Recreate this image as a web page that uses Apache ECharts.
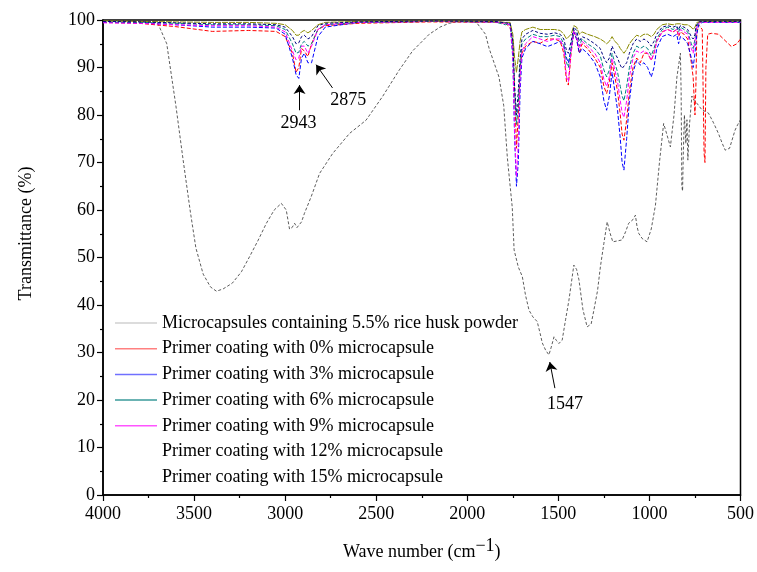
<!DOCTYPE html>
<html>
<head>
<meta charset="utf-8">
<script src="https://cdn.jsdelivr.net/npm/echarts@6/dist/echarts.min.js"></script>
<style>
  html, body { margin: 0; padding: 0; background: #fff; }
  #chart { width: 757px; height: 572px; }
</style>
</head>
<body>
<div id="chart"></div>
<script>
// 微胶囊 FTIR 曲线
const waveMicro = [4000, 3900, 3800, 3750, 3700, 3650, 3600, 3560, 3520, 3490, 3450, 3410, 3377, 3340, 3290, 3240,
  3195, 3150, 3103, 3060, 3021, 2994, 2976, 2962, 2948, 2935, 2926, 2910, 2894, 2857, 2811, 2739,
  2647, 2556, 2465, 2373, 2300, 2209, 2150, 2100, 2050, 2000, 1950, 1900, 1880, 1826, 1800, 1780,
  1753, 1743, 1720, 1698, 1680, 1661, 1640, 1616, 1600, 1588, 1570, 1552, 1540, 1524, 1510, 1497,
  1479, 1460, 1442, 1415, 1400, 1387, 1365, 1342, 1320, 1305, 1285, 1269, 1250, 1232, 1215, 1201,
  1175, 1150, 1130, 1114, 1090, 1077, 1068, 1059, 1040, 1013, 990, 967, 945, 922, 905, 885,
  865, 849, 830, 826, 822, 818, 814, 808, 800, 794, 789, 780, 767, 754, 740, 712,
  676, 650, 621, 600, 584, 560, 530, 515, 500]
const microcapsules = [99.8, 99.8, 99.7, 99.6, 99.4, 95, 82, 70.5, 59.5, 52, 46.5, 43.8, 42.9, 43.4, 44.6, 47,
  50.2, 53.5, 57.2, 60, 61.4, 60, 56, 56.3, 57.2, 56.3, 56.5, 57.5, 59.3, 62.8, 67.7, 71.9,
  76.1, 78.9, 83.9, 89.5, 93.5, 97, 98.5, 99.3, 99.7, 99.8, 99.5, 97, 94, 88, 82, 71,
  60.5, 51.6, 48, 46, 42, 38.9, 37.5, 36.5, 34, 32, 30.5, 29.5, 31, 33.3, 32.5, 31.9,
  32.6, 37, 41, 48.4, 47.5, 45.3, 39, 35.4, 36, 38.9, 43, 48.1, 53, 57.5, 55, 53.3,
  53.5, 53.7, 55.5, 57.2, 58, 58.9, 56.5, 55.1, 54, 53.3, 56, 61, 70, 78.2, 76, 73.3,
  80, 88, 93, 85, 65, 64, 72, 80, 74, 79, 70.5, 78, 84, 83, 82.5, 81.1,
  80.4, 78.5, 76.1, 74, 72.6, 73, 76.8, 78, 79]

// 底漆涂层曲线（共用波数）
const waveCoat = [4000, 3800, 3600, 3400, 3200, 3050, 3000, 2960,
  2940, 2925, 2910, 2895, 2875, 2855, 2820, 2780,
  2600, 2200, 1850, 1790, 1765, 1750, 1740, 1730,
  1720, 1710, 1700, 1680, 1640, 1600, 1560, 1520,
  1490, 1470, 1455, 1445, 1430, 1415, 1400, 1385,
  1370, 1340, 1300, 1270, 1250, 1235, 1220, 1205,
  1190, 1175, 1160, 1150, 1140, 1125, 1110, 1090,
  1070, 1050, 1030, 1010, 990, 975, 960, 930,
  900, 870, 850, 840, 830, 810, 790, 770,
  760, 750, 745, 740, 730, 710, 700, 695,
  690, 680, 660, 620, 580, 550, 520, 500]
const coat0 = [99.5, 99.3, 98.6, 97.6, 97.8, 97.6, 96.5, 93,
  89, 90, 94, 93.5, 92.3, 95, 98, 98.8,
  99.3, 99.6, 99.5, 99.3, 98.5, 95, 85, 73,
  80, 90, 93, 94.5, 95.5, 95.1, 96, 96,
  95.5, 93, 87, 86.3, 93, 97.5, 96, 93,
  95, 94, 92, 90, 86, 84.5, 87, 91,
  88, 85, 80, 76, 74.7, 79, 85, 90,
  92, 91, 93, 93, 91.5, 93, 95.5, 97.5,
  98, 97.5, 98, 96.5, 97.5, 97, 96, 91,
  88, 80, 86, 97, 99, 98, 72, 70,
  90, 97, 97.2, 97, 95.5, 94.4, 95, 96]
const coat3 = [99.5, 99.4, 99, 98.5, 98.5, 98.3, 97, 92,
  88.5, 87.7, 92, 93, 91, 91, 96.5, 98.5,
  99.5, 99.7, 99.6, 99.4, 99, 92, 75, 65,
  70, 85, 92, 94, 95.5, 95, 94.4, 95,
  95.5, 94.5, 92, 91, 94, 97.5, 96, 93,
  94, 93, 91, 88, 83, 81, 84, 89,
  85, 81, 75, 70, 68.4, 75, 83, 89,
  91.5, 90.5, 91, 90, 88, 90, 94, 96.5,
  97, 96.5, 97, 95, 96.5, 96, 95, 92,
  90, 93, 95, 97, 99, 99.5, 99.5, 99.5,
  99.5, 99.5, 99.5, 99.5, 99.5, 99.5, 99.5, 99.5]
const coat6 = [99.6, 99.5, 99.3, 99, 99, 98.8, 98, 95,
  93, 93.2, 95, 95.5, 94.5, 95, 98, 99,
  99.5, 99.7, 99.6, 99, 99.3, 95, 85, 78,
  82, 90, 95, 96, 97, 96.5, 96.5, 96.8,
  96.5, 95, 91, 90, 94, 98, 97, 94.5,
  96, 95, 94, 92.5, 89.5, 88, 89.5, 93,
  91, 89, 86, 84, 83, 86, 90, 93,
  94.5, 94, 94.5, 94, 92.5, 94, 96, 98,
  98.5, 98, 98.5, 97.5, 98.5, 98, 97.5, 95,
  94, 96, 97.5, 98.5, 99.5, 99.6, 99.6, 99.6,
  99.6, 99.6, 99.6, 99.6, 99.6, 99.6, 99.6, 99.6]
const coat9 = [99.4, 99.3, 99, 98.8, 98.8, 98.5, 97.5, 93.5,
  91.6, 92, 94.5, 94.5, 93, 94.5, 98, 99,
  99.5, 99.7, 99.6, 99.3, 99, 93, 76, 67,
  74, 88, 93.5, 95, 96.5, 96, 95.5, 96,
  96, 94, 88, 87, 93.5, 97.8, 96.5, 94,
  95.5, 94.5, 93, 91, 87.5, 86, 88, 92,
  89.5, 87, 83, 80.5, 79.5, 83, 88, 92,
  93.5, 93, 93.5, 93, 91.5, 93, 95.5, 97.5,
  98, 97.5, 98, 97, 98, 97.5, 97, 94,
  93, 95.5, 97, 98.5, 99.4, 99.5, 99.5, 99.5,
  99.5, 99.5, 99.5, 99.5, 99.5, 99.5, 99.5, 99.5]
const coat12 = [99.8, 99.7, 99.6, 99.5, 99.5, 99.3, 99, 97.8,
  96.8, 96.8, 97.5, 97.8, 97.3, 97.8, 99, 99.5,
  99.7, 99.8, 99.7, 99.5, 99.5, 97, 92, 89,
  92, 95.5, 97.5, 98, 98.5, 98, 98, 98,
  97.8, 97, 96, 95.8, 97, 98.8, 98.5, 97,
  97.5, 97, 96.5, 96, 95.5, 95, 95.5, 96.5,
  95.5, 95, 94, 93.5, 93, 93.8, 95, 96,
  96.8, 96.5, 97, 97, 96.5, 97, 98, 99,
  99.2, 99, 99.2, 98.8, 99.2, 99, 99, 98.5,
  98, 98.5, 99, 99.5, 99.7, 99.7, 99.7, 99.7,
  99.7, 99.7, 99.7, 99.7, 99.7, 99.7, 99.7, 99.7]
const coat15 = [99.7, 99.6, 99.4, 99.2, 99.2, 99, 98.5, 96.5,
  95, 95.2, 96.5, 96.8, 96, 96.5, 98.8, 99.3,
  99.6, 99.8, 99.7, 99.4, 99.3, 95.5, 86, 80,
  85, 92, 96, 97, 97.8, 97.2, 97, 97.3,
  97, 96, 93.5, 93, 95.5, 98.5, 97.8, 95.5,
  96.5, 96, 95, 94, 92, 91, 92, 94.5,
  93, 92, 90.5, 89.8, 89.5, 91, 93, 95,
  96, 95.5, 96, 95.5, 94.5, 95.5, 97, 98.5,
  98.8, 98.5, 98.8, 98, 98.8, 98.5, 98, 96.5,
  96, 97, 98.5, 99, 99.6, 99.7, 99.7, 99.7,
  99.7, 99.7, 99.7, 99.7, 99.7, 99.7, 99.7, 99.7]

const seriesNames = [
  'Microcapsules containing 5.5% rice husk powder',
  'Primer coating with 0% microcapsule',
  'Primer coating with 3% microcapsule',
  'Primer coating with 6% microcapsule',
  'Primer coating with 9% microcapsule',
  'Primer coating with 12% microcapsule',
  'Primer coating with 15% microcapsule'
]
const xTicks = [500, 4000, 500] // min, max, interval
const yTicks = [0, 100, 10]

// 峰位标注：[文字, 文字位置, 箭头起点, 箭头终点]
const peakLabels = [
  ['2943', [2926, 78.3], [2921, 81.0], [2921, 86.3]],
  ['2875', [2653, 83.2], [2740, 85.7], [2830, 90.6]],
  ['1547', [1464, 19.0], [1519, 22.5], [1547, 28.0]]
]

const FONT = "'Liberation Serif', 'Times New Roman', serif"

const chart = echarts.init(document.getElementById('chart'))

function zip(w, v) {
  return w.map((x, i) => [x, v[i]])
}

const coatSeries = [
  { data: coat0, color: '#ff0000', legend: '#ff8080', dash: [4, 2] },
  { data: coat3, color: '#0000ff', legend: '#7070ff', dash: [4, 2] },
  { data: coat6, color: '#008080', legend: '#3a9a9a', dash: [4, 2] },
  { data: coat9, color: '#ff00ff', legend: '#ff55ff', dash: [4, 2] },
  { data: coat12, color: '#8a8a00', legend: null, dash: [6, 1] },
  { data: coat15, color: '#000080', legend: null, dash: [3, 2] }
]

const series = [{
  name: seriesNames[0],
  type: 'line',
  symbol: 'none',
  data: zip(waveMicro, microcapsules),
  lineStyle: { color: '#333', width: 0.8, type: [3, 2] },
  itemStyle: { color: '#333' },
  z: 1,
  markLine: {
    silent: true,
    symbol: ['none', 'arrow'],
    symbolSize: 9,
    label: { show: false },
    lineStyle: { color: '#000', width: 1, type: 'solid' },
    data: peakLabels.map(p => [{ coord: p[2] }, { coord: p[3] }])
  },
  markPoint: {
    silent: true,
    symbol: 'circle',
    symbolSize: 0,
    label: { show: true, position: 'inside', color: '#000', fontFamily: FONT, fontSize: 18 },
    data: peakLabels.map(p => ({ coord: p[1], value: p[0] }))
  }
}]

coatSeries.forEach((s, i) => {
  series.push({
    name: seriesNames[i + 1],
    type: 'line',
    symbol: 'none',
    data: zip(waveCoat, s.data),
    lineStyle: { color: s.color, width: 1, type: s.dash },
    itemStyle: { color: s.color },
    z: 2 + i
  })
})

// 图例：细线样本，12%/15% 不显示样本
const legendData = seriesNames.map((n, i) => {
  if (i === 0) return { name: n, itemStyle: { color: '#d0d0d0' } }
  const c = coatSeries[i - 1].legend
  if (!c) return { name: n, itemStyle: { color: '#fff', opacity: 0 } }
  return { name: n, itemStyle: { color: c } }
})

chart.setOption({
  animation: false,
  backgroundColor: '#fff',
  grid: {
    left: 103, right: 15, top: 20, bottom: 77,
    show: true, borderColor: '#000', borderWidth: 1.5, backgroundColor: 'transparent'
  },
  legend: {
    orient: 'vertical',
    left: 110,
    top: 309,
    icon: 'rect',
    itemWidth: 42,
    itemHeight: 1.5,
    itemGap: 7.7,
    itemTextGap: 6,
    selectedMode: false,
    textStyle: { fontFamily: FONT, fontSize: 18, color: '#000', lineHeight: 18 },
    data: legendData
  },
  xAxis: {
    type: 'value',
    inverse: true,
    min: xTicks[0],
    max: xTicks[1],
    interval: xTicks[2],
    name: 'Wave number (cm{sup|\u22121})',
    nameLocation: 'middle',
    nameGap: 42,
    nameTextStyle: {
      fontFamily: FONT, fontSize: 18, color: '#000',
      rich: { sup: { fontFamily: FONT, fontSize: 18, color: '#000', verticalAlign: 'bottom', padding: [0, 0, 12, 0] } }
    },
    axisLine: { lineStyle: { color: '#000', width: 1.5 } },
    axisTick: { length: 6, lineStyle: { color: '#000', width: 1.2 } },
    minorTick: { show: true, splitNumber: 2, length: 3, lineStyle: { color: '#000', width: 1.2 } },
    axisLabel: { fontFamily: FONT, fontSize: 18, color: '#000', margin: 10, formatter: v => String(v) },
    splitLine: { show: false }
  },
  yAxis: {
    type: 'value',
    min: yTicks[0],
    max: yTicks[1],
    interval: yTicks[2],
    name: 'Transmittance (%)',
    nameLocation: 'middle',
    nameGap: 68,
    nameTextStyle: { fontFamily: FONT, fontSize: 18, color: '#000', padding: [0, 0, 0, 48] },
    axisLine: { lineStyle: { color: '#000', width: 1.5 } },
    axisTick: { length: 6, lineStyle: { color: '#000', width: 1.2 } },
    minorTick: { show: true, splitNumber: 2, length: 3, lineStyle: { color: '#000', width: 1.2 } },
    axisLabel: { fontFamily: FONT, fontSize: 18, color: '#000', margin: 8, formatter: v => String(v) },
    splitLine: { show: false }
  },
  series: series
})
</script>
</body>
</html>
